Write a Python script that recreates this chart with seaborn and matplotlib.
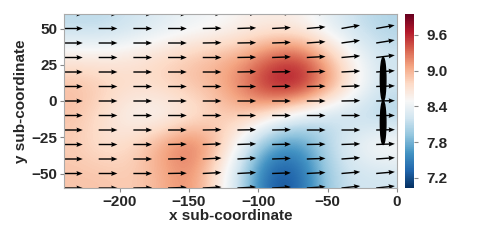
import numpy as np
import matplotlib
matplotlib.use('Agg')
import matplotlib.pyplot as plt
from matplotlib.patches import Ellipse
import seaborn as sns

sns.set_theme(style='ticks')
plt.rcParams['font.family'] = ['Liberation Sans', 'DejaVu Sans']
plt.rcParams['font.weight'] = 'bold'

# -------------------------------
# data
# -------------------------------
# scalar field, cell centres x = -230..-10 (step 20), rows y = 50..-50 (step 20)
field_x = [-230, -210, -190, -170, -150, -130, -110, -90, -70, -50, -30, -10]
field_y = [50, 30, 10, -10, -30, -50]
row_p50 = [8.10, 8.10, 8.20, 8.30, 8.40, 8.45, 8.55, 8.60, 8.55, 8.35, 8.15, 8.05]
row_p30 = [8.65, 8.65, 8.70, 8.80, 8.90, 9.00, 9.10, 9.40, 9.50, 9.00, 8.50, 8.20]
row_p10 = [8.95, 8.85, 8.75, 8.80, 8.90, 9.00, 9.30, 9.75, 9.75, 9.20, 8.60, 8.20]
row_m10 = [8.90, 8.70, 8.50, 8.45, 8.60, 8.80, 8.90, 8.60, 8.30, 8.10, 8.10, 8.00]
row_m30 = [8.85, 8.70, 8.80, 9.10, 9.35, 9.00, 8.30, 7.70, 7.60, 8.10, 8.40, 8.60]
row_m50 = [8.90, 8.90, 8.85, 9.00, 9.20, 8.70, 8.00, 7.20, 7.30, 8.00, 8.20, 8.20]

cbar_ticks = [7.2, 7.8, 8.4, 9.0, 9.6]
vmin, vmax = 7.03, 9.95

# arrow grid and directions (degrees)
arrow_x = [-240, -215, -190, -165, -140, -115, -90, -65, -40, -15]
arrow_y = [60, 50, 40, 30, 20, 10, 0, -10, -20, -30, -40, -50, -60]
arrow_deg = [
    [0, 0, 0, 0, 1, 2, 3, 4, 8, 10],
    [0, 0, 0, 0, 1, 2, 3, 5, 10, 10],
    [0, 0, 0, 0, 1, 1, 2, 4, 8, 9],
    [0, 0, 0, 0, 0, 1, 2, 3, 5, 7],
    [0, 0, 0, 0, 0, 1, 1, 2, 3, 4],
    [0, 0, 0, 0, 0, 0, 1, 1, 2, 2],
    [0, 0, 0, 0, 0, 0, 0, 0, 1, 1],
    [0, 0, 0, 0, 0, 0, 0, 0, 0, 0],
    [0, 0, 0, 0, 1, 1, 1, 0, 0, 1],
    [0, 0, 0, 1, 2, 2, 1, 1, 2, 2],
    [0, 0, 0, 1, 3, 3, 2, 2, 4, 4],
    [0, 0, 0, 1, 3, 3, 2, 3, 5, 5],
    [0, 0, 1, 2, 3, 3, 3, 4, 6, 6],
]

# black ellipses (centre x, centre y, width, height)
ell_x = [-10, -10]
ell_y = [15, -15]
ell_w = [4, 4]
ell_h = [30, 30]

# -------------------------------
# plot
# -------------------------------
field = np.array([row_p50, row_p30, row_p10, row_m10, row_m30, row_m50])
cmap = sns.color_palette('RdBu_r', as_cmap=True)

fig = plt.figure(figsize=(4.8, 2.4), dpi=100)
ax = fig.add_axes([64 / 480, 1 - 188 / 240, 333 / 480, 174 / 240])
cax = fig.add_axes([405 / 480, 1 - 188 / 240, 9 / 480, 174 / 240])

im = ax.imshow(field, extent=(-240, 0, -60, 60), origin='upper', cmap=cmap,
               vmin=vmin, vmax=vmax, interpolation='bicubic', aspect='auto')

X, Y = np.meshgrid(arrow_x, arrow_y)
ang = np.deg2rad(np.array(arrow_deg, dtype=float))
U, V = np.cos(ang), np.sin(ang)
ax.quiver(X, Y, U, V, angles='uv', pivot='tail', color='black',
          scale=1 / 13.5, scale_units='x', width=0.0042,
          headwidth=3.5, headlength=4.5, headaxislength=4)

for ex, ey, ew, eh in zip(ell_x, ell_y, ell_w, ell_h):
    ax.add_patch(Ellipse((ex, ey), ew, eh, color='black', zorder=5))

ax.set_xlim(-240, 0)
ax.set_ylim(-60, 60)
ax.set_xticks([-200, -150, -100, -50, 0])
ax.set_yticks([-50, -25, 0, 25, 50])
ax.tick_params(labelsize=11, length=3, width=0.8, color='#888888', pad=2)
for lab in ax.get_xticklabels() + ax.get_yticklabels():
    lab.set_fontweight('bold')
for sp in ax.spines.values():
    sp.set_color('#aaaaaa')
    sp.set_linewidth(0.8)
ax.set_xlabel('x sub-coordinate', fontsize=11, fontweight='bold', labelpad=0)
ax.set_ylabel('y sub-coordinate', fontsize=11, fontweight='bold', labelpad=2)

cb = fig.colorbar(im, cax=cax, ticks=cbar_ticks)
cb.outline.set_visible(False)
cb.ax.tick_params(labelsize=11, length=3, width=0.8, color='#888888', pad=6)
cb.ax.set_yticklabels([f'{t:.1f}' for t in cbar_ticks], fontweight='bold')

fig.savefig('out.png', dpi=100)
